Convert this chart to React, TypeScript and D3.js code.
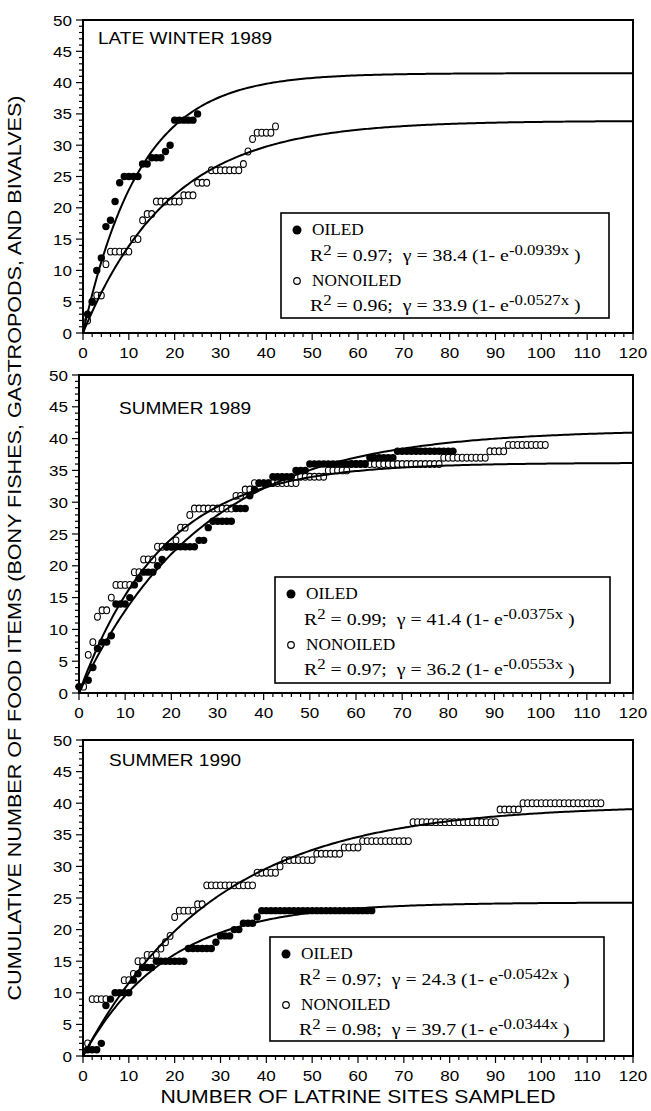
import React from 'react';
import * as d3 from 'd3';

type Pt = [number, number];

// ---- tick labels ----
const xTickLabels = [0, 10, 20, 30, 40, 50, 60, 70, 80, 90, 100, 110, 120];
const yTickLabels = [0, 5, 10, 15, 20, 25, 30, 35, 40, 45, 50];

// ---- panel texts ----
const panelTitles = ['LATE WINTER 1989', 'SUMMER 1989', 'SUMMER 1990'];
const oiledR2 = ['0.97', '0.99', '0.97'];
const nonoiledR2 = ['0.96', '0.97', '0.98'];
const oiledAText = ['38.4', '41.4', '24.3'];
const oiledKText = ['-0.0939x', '-0.0375x', '-0.0542x'];
const nonoiledAText = ['33.9', '36.2', '39.7'];
const nonoiledKText = ['-0.0527x', '-0.0553x', '-0.0344x'];

// fitted curves as drawn in the figure: y = A (1 - e^(-k x))
const oiledCurveA = [41.5, 41.4, 24.3];
const oiledCurveK = [0.08, 0.0375, 0.0542];
const nonoiledCurveA = [33.9, 36.2, 39.7];
const nonoiledCurveK = [0.0527, 0.0553, 0.0344];

// ---- cumulative counts ----
const lateWinterOiled: Pt[] = [
  [1, 3], [2, 5], [3, 10], [4, 12], [5, 17], [6, 18], [7, 21], [8, 24], [9, 25], [10, 25],
  [11, 25], [12, 25], [13, 27], [14, 27], [15, 28], [16, 28], [17, 28], [18, 29], [19, 30], [20, 34],
  [21, 34], [22, 34], [23, 34], [24, 34], [25, 35],
];

const lateWinterNonoiled: Pt[] = [
  [1, 2], [2, 5], [3, 6], [4, 6], [5, 11], [6, 13], [7, 13], [8, 13], [9, 13], [10, 13],
  [11, 15], [12, 15], [13, 18], [14, 19], [15, 19], [16, 21], [17, 21], [18, 21], [19, 21], [20, 21],
  [21, 21], [22, 22], [23, 22], [24, 22], [25, 24], [26, 24], [27, 24], [28, 26], [29, 26], [30, 26],
  [31, 26], [32, 26], [33, 26], [34, 26], [35, 27], [36, 29], [37, 31], [38, 32], [39, 32], [40, 32],
  [41, 32], [42, 33],
];

const summer89Oiled: Pt[] = [
  [0, 1], [2, 2], [3, 4], [4, 7], [5, 8], [6, 8], [7, 9], [8, 14], [9, 14], [10, 14],
  [11, 15], [12, 17], [13, 18], [14, 19], [15, 19], [16, 19], [17, 20], [18, 21], [19, 23], [20, 23],
  [21, 23], [22, 23], [23, 23], [24, 23], [25, 23], [26, 24], [27, 24], [28, 26], [29, 27], [30, 27],
  [31, 27], [32, 27], [33, 27], [34, 29], [35, 29], [36, 29], [37, 31], [38, 32], [39, 33], [40, 33],
  [41, 33], [42, 34], [43, 34], [44, 34], [45, 34], [46, 34], [47, 35], [48, 35], [49, 35], [50, 36],
  [51, 36], [52, 36], [53, 36], [54, 36], [55, 36], [56, 36], [57, 36], [58, 36], [59, 36], [60, 36],
  [61, 36], [62, 36], [63, 37], [64, 37], [65, 37], [66, 37], [67, 37], [68, 37], [69, 38], [70, 38],
  [71, 38], [72, 38], [73, 38], [74, 38], [75, 38], [76, 38], [77, 38], [78, 38], [79, 38], [80, 38],
  [81, 38],
];

const summer89Nonoiled: Pt[] = [
  [1, 1], [2, 6], [3, 8], [4, 12], [5, 13], [6, 13], [7, 15], [8, 17], [9, 17], [10, 17],
  [11, 17], [12, 19], [13, 19], [14, 21], [15, 21], [16, 21], [17, 23], [18, 23], [19, 23], [20, 23],
  [21, 24], [22, 26], [23, 26], [24, 28], [25, 29], [26, 29], [27, 29], [28, 29], [29, 29], [30, 29],
  [31, 29], [32, 29], [33, 29], [34, 31], [35, 31], [36, 32], [37, 32], [38, 33], [39, 33], [40, 33],
  [41, 33], [42, 33], [43, 33], [44, 33], [45, 33], [46, 33], [47, 33], [48, 34], [49, 34], [50, 34],
  [51, 34], [52, 34], [53, 34], [54, 35], [55, 35], [56, 35], [57, 35], [58, 35], [59, 36], [60, 36],
  [61, 36], [62, 36], [63, 36], [64, 36], [65, 36], [66, 36], [67, 36], [68, 36], [69, 36], [70, 36],
  [71, 36], [72, 36], [73, 36], [74, 36], [75, 36], [76, 36], [77, 36], [78, 36], [79, 37], [80, 37],
  [81, 37], [82, 37], [83, 37], [84, 37], [85, 37], [86, 37], [87, 37], [88, 37], [89, 38], [90, 38],
  [91, 38], [92, 38], [93, 39], [94, 39], [95, 39], [96, 39], [97, 39], [98, 39], [99, 39], [100, 39],
  [101, 39],
];

const summer90Oiled: Pt[] = [
  [1, 1], [2, 1], [3, 1], [4, 2], [5, 8], [6, 9], [7, 10], [8, 10], [9, 10], [10, 10],
  [11, 12], [12, 13], [13, 14], [14, 14], [15, 14], [16, 15], [17, 15], [18, 15], [19, 15], [20, 15],
  [21, 15], [22, 15], [23, 17], [24, 17], [25, 17], [26, 17], [27, 17], [28, 17], [29, 18], [30, 19],
  [31, 19], [32, 19], [33, 20], [34, 20], [35, 21], [36, 21], [37, 21], [38, 22], [39, 23], [40, 23],
  [41, 23], [42, 23], [43, 23], [44, 23], [45, 23], [46, 23], [47, 23], [48, 23], [49, 23], [50, 23],
  [51, 23], [52, 23], [53, 23], [54, 23], [55, 23], [56, 23], [57, 23], [58, 23], [59, 23], [60, 23],
  [61, 23], [62, 23], [63, 23],
];

const summer90Nonoiled: Pt[] = [
  [1, 2], [2, 9], [3, 9], [4, 9], [5, 9], [9, 12], [10, 12], [11, 13], [12, 15], [13, 15],
  [14, 16], [15, 16], [16, 16], [17, 17], [18, 18], [19, 19], [20, 22], [21, 23], [22, 23], [23, 23],
  [24, 23], [25, 24], [26, 24], [27, 27], [28, 27], [29, 27], [30, 27], [31, 27], [32, 27], [33, 27],
  [34, 27], [35, 27], [36, 27], [37, 27], [38, 29], [39, 29], [40, 29], [41, 29], [42, 29], [43, 30],
  [44, 31], [45, 31], [46, 31], [47, 31], [48, 31], [49, 31], [50, 31], [51, 32], [52, 32], [53, 32],
  [54, 32], [55, 32], [56, 32], [57, 33], [58, 33], [59, 33], [60, 33], [61, 34], [62, 34], [63, 34],
  [64, 34], [65, 34], [66, 34], [67, 34], [68, 34], [69, 34], [70, 34], [71, 34], [72, 37], [73, 37],
  [74, 37], [75, 37], [76, 37], [77, 37], [78, 37], [79, 37], [80, 37], [81, 37], [82, 37], [83, 37],
  [84, 37], [85, 37], [86, 37], [87, 37], [88, 37], [89, 37], [90, 37], [91, 39], [92, 39], [93, 39],
  [94, 39], [95, 39], [96, 40], [97, 40], [98, 40], [99, 40], [100, 40], [101, 40], [102, 40], [103, 40],
  [104, 40], [105, 40], [106, 40], [107, 40], [108, 40], [109, 40], [110, 40], [111, 40], [112, 40], [113, 40],
];

const oiledSeries = [lateWinterOiled, summer89Oiled, summer90Oiled];
const nonoiledSeries = [lateWinterNonoiled, summer89Nonoiled, summer90Nonoiled];

// ---- layout ----
const W = 651;
const H = 1111;
const SANS = '"Liberation Sans", Arial, Helvetica, sans-serif';
const SERIF = '"Liberation Serif", "Times New Roman", serif';

const PANELS = [
  { x0: 83, x1: 633, top: 20, bottom: 333, titleX: 98, titleY: 44, lg: { x: 281, y: 213, w: 328, h: 105 } },
  { x0: 79, x1: 633, top: 375, bottom: 693, titleX: 119, titleY: 414, lg: { x: 275, y: 577, w: 335, h: 106 } },
  { x0: 83, x1: 633, top: 740, bottom: 1056, titleX: 109, titleY: 766, lg: { x: 270, y: 937, w: 334, h: 104 } },
];

const LBL_SX = 1.08;
const EQ_SX = 1.2;

const Equation = ({ x, y, r2, a, k }: { x: number; y: number; r2: string; a: string; k: string }) => (
  <text
    transform={`translate(${x},${y}) scale(${EQ_SX},1)`}
    fontFamily={SERIF}
    fontSize={16.5}
    style={{ whiteSpace: 'pre' }}
  >
    R<tspan dy={-6.5} fontSize={14}>2</tspan>
    <tspan dy={6.5}>{` = ${r2};  γ = ${a} (1- e`}</tspan>
    <tspan dy={-6.5} fontSize={14}>{k}</tspan>
    <tspan dy={6.5}>{' )'}</tspan>
  </text>
);

function Panel({ idx }: { idx: number }) {
  const p = PANELS[idx];
  const x = d3.scaleLinear().domain([0, 120]).range([p.x0, p.x1]);
  const y = d3.scaleLinear().domain([0, 50]).range([p.bottom, p.top]);

  const xs = d3.range(0, 120.001, 0.5);
  const curve = (A: number, k: number) =>
    d3.line<number>()
      .x(d => x(d))
      .y(d => y(A * (1 - Math.exp(-k * d))))(xs) || '';

  const xMinor = d3.range(0, 121, 2);
  const yMinor = d3.range(0, 51, 1);
  const lg = p.lg;

  return (
    <g>
      {/* data points */}
      {nonoiledSeries[idx].map((d, i) => (
        <ellipse key={'n' + i} cx={x(d[0])} cy={y(d[1])} rx={2.9} ry={3.4} fill="#fff" stroke="#000" strokeWidth={1.1} />
      ))}
      {oiledSeries[idx].map((d, i) => (
        <circle key={'o' + i} cx={x(d[0])} cy={y(d[1])} r={3.7} fill="#000" />
      ))}

      {/* fitted curves */}
      <path d={curve(oiledCurveA[idx], oiledCurveK[idx])} fill="none" stroke="#000" strokeWidth={2} />
      <path d={curve(nonoiledCurveA[idx], nonoiledCurveK[idx])} fill="none" stroke="#000" strokeWidth={2} />

      {/* frame */}
      <rect x={p.x0} y={p.top} width={p.x1 - p.x0} height={p.bottom - p.top} fill="none" stroke="#000" strokeWidth={2} />

      {/* x ticks */}
      {xMinor.map(v => (
        <line key={'xt' + v} x1={x(v)} x2={x(v)} y1={p.bottom} y2={p.bottom + (v % 10 === 0 ? 7 : 4)} stroke="#000" strokeWidth={1.2} />
      ))}
      {xTickLabels.map(v => (
        <text key={'xl' + v} transform={`translate(${x(v)},${p.bottom + 25}) scale(1.1,1)`} textAnchor="middle" fontFamily={SANS} fontSize={15.5}>
          {v}
        </text>
      ))}

      {/* y ticks */}
      {yMinor.map(v => (
        <line key={'yt' + v} x1={p.x0} x2={p.x0 - (v % 5 === 0 ? 7 : 4)} y1={y(v)} y2={y(v)} stroke="#000" strokeWidth={1.2} />
      ))}
      {yTickLabels.map(v => (
        <text key={'yl' + v} transform={`translate(${p.x0 - 11},${y(v) + 5.5}) scale(1.1,1)`} textAnchor="end" fontFamily={SANS} fontSize={15.5}>
          {v}
        </text>
      ))}

      {/* panel title */}
      <text transform={`translate(${p.titleX},${p.titleY}) scale(1.12,1)`} fontFamily={SANS} fontSize={17}>
        {panelTitles[idx]}
      </text>

      {/* legend */}
      <rect x={lg.x} y={lg.y} width={lg.w} height={lg.h} fill="#fff" stroke="#000" strokeWidth={1.6} />
      <circle cx={lg.x + 16} cy={lg.y + 17} r={4.5} fill="#000" />
      <text transform={`translate(${lg.x + 31},${lg.y + 22}) scale(${LBL_SX},1)`} fontFamily={SERIF} fontSize={16}>OILED</text>
      <Equation x={lg.x + 29} y={lg.y + 48} r2={oiledR2[idx]} a={oiledAText[idx]} k={oiledKText[idx]} />
      <circle cx={lg.x + 16} cy={lg.y + 68} r={3.3} fill="#fff" stroke="#000" strokeWidth={1.2} />
      <text transform={`translate(${lg.x + 31},${lg.y + 73}) scale(${LBL_SX},1)`} fontFamily={SERIF} fontSize={16}>NONOILED</text>
      <Equation x={lg.x + 29} y={lg.y + 98} r2={nonoiledR2[idx]} a={nonoiledAText[idx]} k={nonoiledKText[idx]} />
    </g>
  );
}

export default function App() {
  return (
    <div style={{ position: 'absolute', left: 0, top: 0, width: W, height: H, background: '#fff' }}>
      <svg width={W} height={H} viewBox={`0 0 ${W} ${H}`} style={{ display: 'block' }}>
        <rect width={W} height={H} fill="#fff" />
        {PANELS.map((_, i) => (
          <Panel key={i} idx={i} />
        ))}
        <text
          transform="translate(21,548) rotate(-90)"
          textAnchor="middle"
          fontFamily={SANS}
          fontSize={19}
          textLength={905}
          lengthAdjust="spacingAndGlyphs"
        >
          CUMULATIVE NUMBER OF FOOD ITEMS (BONY FISHES, GASTROPODS, AND BIVALVES)
        </text>
        <text
          x={358}
          y={1103}
          textAnchor="middle"
          fontFamily={SANS}
          fontSize={17.5}
          textLength={395}
          lengthAdjust="spacingAndGlyphs"
        >
          NUMBER OF LATRINE SITES SAMPLED
        </text>
      </svg>
    </div>
  );
}
